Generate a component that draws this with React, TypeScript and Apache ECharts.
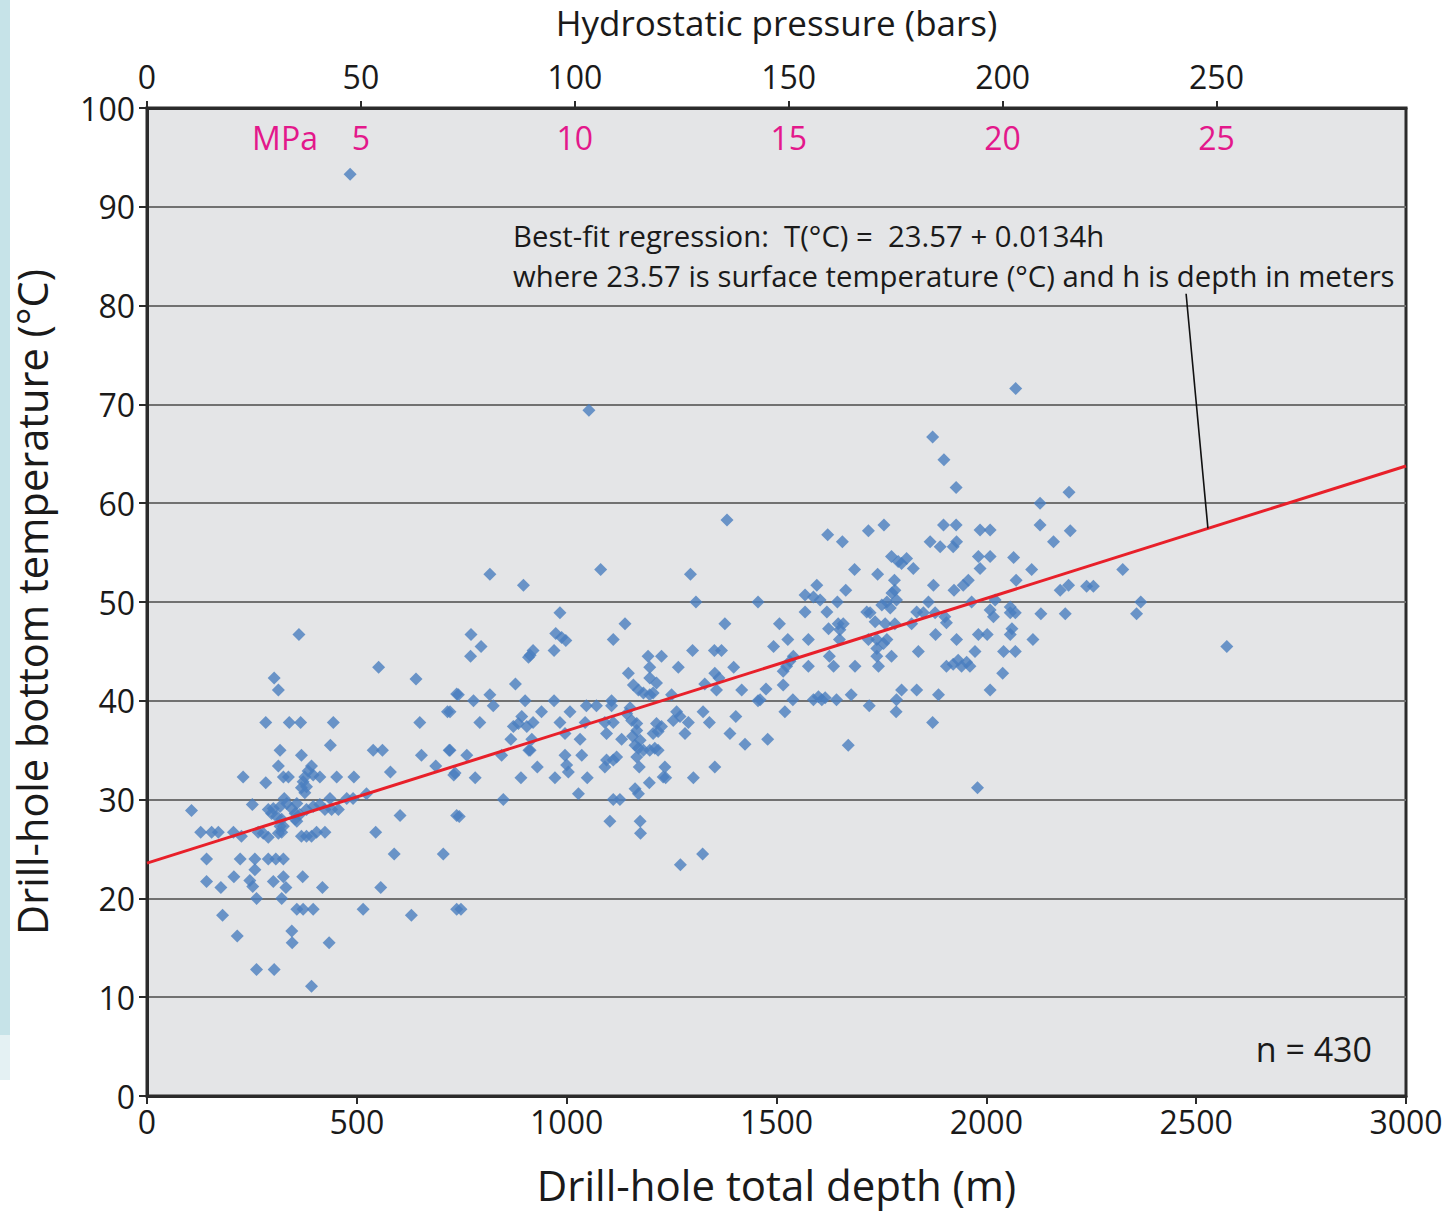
import React, { useEffect, useRef } from "react";
import * as echarts from "echarts";

// ---- Axis ticks / labels ----
const DEPTH_TICKS = [0, 500, 1000, 1500, 2000, 2500, 3000];
const BAR_TICKS = [0, 50, 100, 150, 200, 250];
const MPA_TICKS = [5, 10, 15, 20, 25];
const TEMP_MIN = 0;
const TEMP_MAX = 100;
const BAR_MAX = 294.3; // hydrostatic pressure at 3000 m

// ---- Regression ----
const REG_INTERCEPT = 23.57;
const REG_SLOPE = 0.0134;
const POINTER = [
  [2476, 81.2],
  [2528, 57.45],
];

// ---- Data [depth (m), temperature (°C)] ----
const pointsShallow: number[][] = [
  [484, 93.3], [362, 46.7], [552, 43.4], [641, 42.2], [303, 42.3], [313, 41.1], [738, 40.7],
  [283, 37.8], [339, 37.8], [366, 37.8], [444, 37.8], [650, 37.8], [716, 38.9],
  [437, 35.5], [317, 35.0], [368, 34.5], [539, 35.0], [561, 35.0], [654, 34.5], [720, 35.0],
  [313, 33.4], [325, 32.3], [337, 32.3], [229, 32.3], [283, 31.7],
  [392, 33.4], [384, 32.9], [376, 32.3], [396, 32.5], [372, 31.8], [368, 31.2], [380, 31.3], [376, 30.7],
  [412, 32.3], [452, 32.3], [493, 32.3], [580, 32.8], [688, 33.4], [731, 32.5],
  [523, 30.6], [436, 30.1], [476, 30.1], [491, 30.1], [456, 29.0],
  [106, 28.9], [251, 29.5], [289, 29.0],
  [327, 30.1], [333, 29.6], [317, 29.3], [301, 29.1], [297, 28.6], [309, 28.3], [321, 28.0],
  [345, 29.1], [357, 29.6], [353, 28.6], [364, 28.5], [380, 29.0], [396, 29.3], [412, 29.5], [424, 29.0], [440, 29.0],
  [353, 28.0], [357, 27.8], [603, 28.4], [738, 28.4],
  [128, 26.7], [154, 26.7], [170, 26.7], [206, 26.7], [225, 26.3], [265, 26.7], [277, 26.6], [289, 26.2],
  [321, 26.7], [325, 27.3], [317, 27.3], [313, 26.6], [368, 26.3], [380, 26.3], [392, 26.3], [404, 26.7], [424, 26.7],
  [545, 26.7], [589, 24.5], [706, 24.5],
  [142, 24.0], [222, 24.0], [257, 24.0], [257, 22.9], [289, 24.0], [307, 24.0], [325, 24.0],
  [142, 21.7], [176, 21.1], [207, 22.2], [245, 21.8], [252, 21.2], [261, 20.0], [301, 21.7], [325, 22.2],
  [331, 21.1], [321, 20.0], [371, 22.2], [418, 21.1], [557, 21.1],
  [180, 18.3], [357, 18.9], [372, 18.9], [396, 18.9], [515, 18.9], [630, 18.3], [738, 18.9],
  [215, 16.2], [345, 16.7], [346, 15.5], [434, 15.5],
  [261, 12.8], [303, 12.8], [392, 11.1],
];

const pointsMid: number[][] = [
  [1053, 69.4], [1382, 58.3],
  [817, 52.8], [1081, 53.3], [1295, 52.8], [897, 51.7], [1308, 50.0], [1456, 50.0],
  [984, 48.9], [1139, 47.8], [1377, 47.8], [772, 46.7], [796, 45.5], [771, 44.5],
  [974, 46.8], [988, 46.4], [998, 46.1], [1111, 46.2], [970, 45.1],
  [920, 45.1], [913, 44.6], [909, 44.4],
  [1300, 45.1], [1352, 45.1], [1369, 45.1], [1194, 44.5], [1226, 44.5],
  [1198, 43.4], [1266, 43.4], [1398, 43.4], [1147, 42.8], [1198, 42.3], [1214, 41.8],
  [1353, 42.8], [1363, 42.3], [1329, 41.7],
  [1159, 41.6], [1171, 41.1], [1183, 40.8], [1198, 40.6], [1206, 40.8],
  [1417, 41.1], [1357, 41.1], [878, 41.7], [742, 40.6], [817, 40.6], [825, 39.5], [778, 40.0], [901, 40.0], [970, 40.0],
  [1047, 39.5], [1071, 39.5], [1107, 40.0], [1107, 39.5], [1250, 40.6],
  [1151, 39.3], [1143, 38.7], [1155, 38.0], [1167, 37.7],
  [1456, 40.0], [722, 38.9], [793, 37.8],
  [893, 38.4], [885, 37.7], [873, 37.4], [905, 37.4], [920, 37.8], [940, 38.9], [1008, 38.9], [984, 37.8],
  [996, 36.7], [1044, 37.8], [1091, 37.8], [1111, 37.8], [1095, 36.7], [1131, 36.1],
  [1262, 38.9], [1254, 38.0], [1270, 38.4], [1290, 37.8], [1325, 38.9], [1340, 37.8], [1403, 38.4],
  [1389, 36.7], [1425, 35.6], [1282, 36.7],
  [1214, 37.7], [1226, 37.4], [1218, 36.9], [1206, 36.7],
  [1167, 37.0], [1157, 36.4], [1175, 36.0], [1163, 35.5], [1171, 35.2], [1183, 35.0], [1198, 35.0], [1210, 35.2], [1218, 35.0],
  [867, 36.1], [917, 36.1], [913, 35.0], [722, 35.0], [762, 34.5], [845, 34.5], [910, 35.0],
  [996, 34.5], [1000, 33.5], [1004, 32.8], [1032, 36.1], [1036, 34.5],
  [1095, 34.0], [1091, 33.3], [1111, 34.0], [1119, 34.3], [1167, 34.3], [1173, 33.3],
  [1234, 33.3], [1230, 32.3], [1236, 32.2], [1353, 33.3],
  [734, 32.7], [782, 32.2], [891, 32.2], [930, 33.3], [972, 32.2], [1049, 32.2], [1028, 30.6],
  [1163, 31.1], [1171, 30.6], [1197, 31.7], [1302, 32.2], [849, 30.0], [1111, 30.0], [1127, 30.0],
  [744, 28.3], [1103, 27.8], [1175, 27.8], [1176, 26.6], [1324, 24.5], [1271, 23.4], [748, 18.9],
];

const pointsDeep: number[][] = [
  [1872, 66.7], [1899, 64.4], [1928, 61.6], [1898, 57.8], [1928, 57.8], [1985, 57.3], [2009, 57.3],
  [1622, 56.8], [1657, 56.1], [1719, 57.2], [1756, 57.8],
  [1866, 56.1], [1890, 55.6], [1921, 55.6], [1929, 56.1],
  [1774, 54.6], [1798, 53.9], [1810, 54.4], [1790, 54.1], [1826, 53.4], [1686, 53.3], [1741, 52.8],
  [1981, 54.6], [2009, 54.6], [1985, 53.4],
  [1874, 51.7], [1923, 51.2], [1945, 51.7], [1957, 52.2],
  [1781, 52.2], [1782, 51.2], [1775, 50.9], [1786, 50.2],
  [1596, 51.7], [1568, 50.7], [1588, 50.5], [1604, 50.2], [1665, 51.2],
  [1645, 50.0], [1751, 49.7], [1763, 50.0], [1771, 49.4], [1862, 50.0], [1965, 50.0],
  [2009, 49.2], [2017, 48.5],
  [1568, 49.0], [1620, 49.0], [1715, 49.0], [1723, 48.9], [1735, 48.0],
  [1834, 49.0], [1850, 48.9], [1878, 48.9], [1901, 48.5], [1905, 47.9],
  [1507, 47.8], [1624, 47.3], [1647, 47.8], [1659, 47.8], [1651, 47.2],
  [1759, 47.8], [1782, 47.8], [1822, 47.8],
  [1576, 46.2], [1527, 46.2], [1493, 45.5], [1650, 46.2], [1719, 46.2], [1739, 46.2], [1755, 45.8], [1763, 46.2],
  [1879, 46.7], [1929, 46.2], [1981, 46.7], [2002, 46.7],
  [1540, 44.5], [1532, 44.0], [1524, 43.5], [1516, 43.0],
  [1626, 44.5], [1636, 43.5], [1576, 43.5], [1687, 43.5],
  [1739, 45.3], [1739, 44.5], [1743, 43.5], [1774, 44.5], [1838, 45.0],
  [1905, 43.5], [1921, 43.7], [1933, 44.1], [1941, 43.5], [1953, 43.9], [1961, 43.5], [1973, 45.0],
  [1475, 41.2], [1461, 40.1], [1516, 41.6], [1539, 40.1],
  [1588, 40.1], [1600, 40.4], [1608, 40.1], [1616, 40.3], [1643, 40.1], [1678, 40.6], [1721, 39.5],
  [1786, 40.1], [1798, 41.1], [1785, 38.9], [1834, 41.1], [1886, 40.6], [2009, 41.1],
  [1520, 38.9], [1872, 37.8], [1479, 36.1], [1671, 35.5], [1979, 31.2],
];

const pointsDeepest: number[][] = [
  [2070, 71.6], [2197, 61.1], [2128, 60.0], [2128, 57.8], [2200, 57.2], [2160, 56.1],
  [2065, 54.5], [2108, 53.3], [2071, 52.2], [2325, 53.3], [2196, 51.7], [2176, 51.2], [2239, 51.6], [2255, 51.6],
  [2021, 50.2], [2057, 49.5], [2069, 48.9], [2057, 48.9], [2061, 47.3], [2057, 46.7],
  [2130, 48.8], [2188, 48.8], [2368, 50.0], [2358, 48.8],
  [2111, 46.2], [2041, 45.0], [2069, 45.0], [2039, 42.8], [2573, 45.5],
];

const FONT = "'Open Sans', 'Noto Sans', sans-serif";
const TEXT = "#1a1a1a";
const PINK = "#e3188b";
const BORDER = "#2b2b2b";

export default function App() {
  const ref = useRef<HTMLDivElement>(null);

  useEffect(() => {
    if (!ref.current) return;
    const chart = echarts.init(ref.current, null, { renderer: "svg" });
    const allPoints = [...pointsShallow, ...pointsMid, ...pointsDeep, ...pointsDeepest];
    const xMin = DEPTH_TICKS[0];
    const xMax = DEPTH_TICKS[DEPTH_TICKS.length - 1];
    const regLine = [
      [xMin, REG_INTERCEPT + REG_SLOPE * xMin],
      [xMax, REG_INTERCEPT + REG_SLOPE * xMax],
    ];

    const option: any = {
      animation: false,
      backgroundColor: "#ffffff",
      textStyle: { fontFamily: FONT },
      grid: {
        left: 147,
        top: 108,
        width: 1259,
        height: 988,
        show: true,
        backgroundColor: "#e4e5e7",
        borderColor: BORDER,
        borderWidth: 3,
        containLabel: false,
        outerBoundsMode: "none",
      },
      xAxis: [
        {
          type: "value",
          position: "bottom",
          min: xMin,
          max: xMax,
          interval: 500,
          axisLine: { show: true, lineStyle: { color: BORDER, width: 3 } },
          axisTick: { show: true, length: 8, lineStyle: { color: BORDER, width: 2 } },
          axisLabel: {
            fontSize: 32,
            color: TEXT,
            margin: 9,
            fontFamily: FONT,
            formatter: (v: number) => String(v),
          },
          splitLine: { show: false },
          name: "Drill-hole total depth (m)",
          nameLocation: "middle",
          nameGap: 67,
          nameTextStyle: { fontSize: 42, color: TEXT, fontFamily: FONT },
        },
        {
          type: "value",
          position: "top",
          min: 0,
          max: BAR_MAX,
          axisLine: { show: true, lineStyle: { color: BORDER, width: 3 } },
          axisTick: { show: true, length: 7, customValues: BAR_TICKS, lineStyle: { color: BORDER, width: 2 } },
          axisLabel: {
            fontSize: 32,
            color: TEXT,
            margin: 16,
            customValues: BAR_TICKS,
            fontFamily: FONT,
            formatter: (v: number) => String(v),
          },
          splitLine: { show: false },
          name: "Hydrostatic pressure (bars)",
          nameLocation: "middle",
          nameGap: 68,
          nameTextStyle: { fontSize: 35, color: TEXT, fontFamily: FONT },
        },
        {
          type: "value",
          position: "top",
          min: 0,
          max: BAR_MAX,
          axisLine: { show: false },
          axisTick: { show: false },
          axisLabel: {
            inside: true,
            fontSize: 32,
            color: PINK,
            margin: 13,
            customValues: MPA_TICKS.map((m) => m * 10),
            formatter: (v: number) => String(Math.round(v / 10)),
            fontFamily: FONT,
          },
          splitLine: { show: false },
        },
      ],
      yAxis: {
        type: "value",
        min: TEMP_MIN,
        max: TEMP_MAX,
        interval: 10,
        axisLine: { show: true, lineStyle: { color: BORDER, width: 3 } },
        axisTick: { show: true, length: 8, lineStyle: { color: BORDER, width: 2 } },
        axisLabel: { fontSize: 32, color: TEXT, margin: 12, fontFamily: FONT },
        splitLine: { show: true, lineStyle: { color: "#717171", width: 2 } },
        name: "Drill-hole bottom temperature (°C)",
        nameLocation: "middle",
        nameGap: 94,
        nameTextStyle: { fontSize: 41.5, color: TEXT, fontFamily: FONT },
      },
      series: [
        {
          type: "scatter",
          xAxisIndex: 0,
          data: allPoints,
          symbol: "diamond",
          symbolSize: 13,
          itemStyle: { color: "#4a7ebf" },
          z: 2,
        },
        {
          type: "line",
          xAxisIndex: 0,
          data: regLine,
          symbol: "none",
          lineStyle: { color: "#e8202a", width: 3 },
          z: 3,
        },
        {
          type: "line",
          xAxisIndex: 0,
          data: POINTER,
          symbol: "none",
          lineStyle: { color: "#111111", width: 1.6 },
          z: 4,
        },
      ],
      graphic: [
        { type: "rect", left: 0, top: 0, shape: { width: 10, height: 1035 }, style: { fill: "#c6e3e8" }, z: -10 },
        { type: "rect", left: 0, top: 1035, shape: { width: 10, height: 45 }, style: { fill: "#e4f1f3" }, z: -10 },
        {
          type: "text",
          x: 285,
          y: 137,
          style: { text: "MPa", fill: PINK, font: `32px ${FONT}`, align: "center", verticalAlign: "middle" },
          z: 10,
        },
        {
          type: "text",
          x: 513,
          y: 236,
          style: {
            text: "Best-fit regression:  T(°C) =  23.57 + 0.0134h",
            fill: TEXT,
            font: `29.3px ${FONT}`,
            align: "left",
            verticalAlign: "middle",
          },
          z: 10,
        },
        {
          type: "text",
          x: 513,
          y: 276,
          style: {
            text: "where 23.57 is surface temperature (°C) and h is depth in meters",
            fill: TEXT,
            font: `29.3px ${FONT}`,
            align: "left",
            verticalAlign: "middle",
          },
          z: 10,
        },
        {
          type: "text",
          x: 1372,
          y: 1049,
          style: { text: "n = 430", fill: TEXT, font: `34px ${FONT}`, align: "right", verticalAlign: "middle" },
          z: 10,
        },
      ],
    };

    chart.setOption(option);
    return () => chart.dispose();
  }, []);

  return (
    <div
      ref={ref}
      style={{ position: "absolute", left: 0, top: 0, width: 1455, height: 1211, background: "#fff" }}
    />
  );
}
